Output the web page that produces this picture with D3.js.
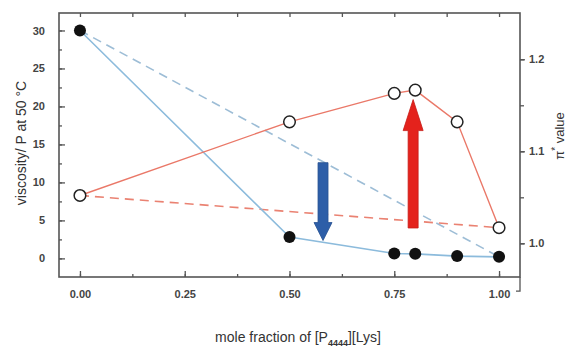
<!DOCTYPE html>
<html>
<head>
<meta charset="utf-8">
<script src="https://cdn.jsdelivr.net/npm/d3@7"></script>
<style>
  html, body { margin: 0; padding: 0; background: #fff; }
  svg { display: block; font-family: "Liberation Sans", Arial, sans-serif; }
</style>
</head>
<body>
<svg id="chart"></svg>
<script>
// mole fraction of [P4444][Lys]
const fractions = [0.0, 0.5, 0.75, 0.8, 0.9, 1.0];
// viscosity / P at 50 C (filled circles, left axis)
const viscosity = [30.0, 2.8, 0.65, 0.6, 0.3, 0.2];
// pi* value (open circles, right axis)
const piStar = [1.052, 1.132, 1.163, 1.1665, 1.132, 1.017];

const xTicks = [0, 0.25, 0.5, 0.75, 1.0];
const leftTicks = [0, 5, 10, 15, 20, 25, 30];
const rightTicks = [1.0, 1.1, 1.2];

// annotation arrows (x, start, end in viscosity units)
const arrows = [
  { x: 0.58, from: 12.6, to: 2.35, color: '#2d5ea8', head: 18, headW: 18 },
  { x: 0.795, from: 4.0, to: 20.9, color: '#e4221c', head: 31, headW: 20 }
];

const width = 569, height = 348;
const margin = { top: 13, right: 49, bottom: 71, left: 59 };

const svg = d3.select('#chart').attr('width', width).attr('height', height);

const x = d3.scaleLinear().domain([-0.05, 1.05])
  .range([margin.left, width - margin.right]);
const yL = d3.scaleLinear().domain([-2.45, 32.3])
  .range([height - margin.bottom, margin.top]);
const yR = d3.scaleLinear().domain([0.9634, 1.2503])
  .range([height - margin.bottom, margin.top]);

const x0 = margin.left, x1 = width - margin.right;
const y0 = height - margin.bottom, y1 = margin.top;
const axisColor = '#555';

// dashed guide lines (first to last point)
const last = fractions.length - 1;
svg.append('line')
  .attr('x1', x(fractions[0])).attr('y1', yL(viscosity[0]))
  .attr('x2', x(fractions[last])).attr('y2', yL(viscosity[last]))
  .attr('stroke', '#9dbdd6').attr('stroke-width', 1.6)
  .attr('stroke-dasharray', '9,6');
svg.append('line')
  .attr('x1', x(fractions[0])).attr('y1', yR(piStar[0]))
  .attr('x2', x(fractions[last])).attr('y2', yR(piStar[last]))
  .attr('stroke', '#ea8272').attr('stroke-width', 1.6)
  .attr('stroke-dasharray', '9,6');

// solid lines
svg.append('path')
  .datum(fractions.map((f, i) => [f, viscosity[i]]))
  .attr('fill', 'none').attr('stroke', '#8cbbdc').attr('stroke-width', 1.6)
  .attr('d', d3.line().x(d => x(d[0])).y(d => yL(d[1])));
svg.append('path')
  .datum(fractions.map((f, i) => [f, piStar[i]]))
  .attr('fill', 'none').attr('stroke', '#ea7868').attr('stroke-width', 1.4)
  .attr('d', d3.line().x(d => x(d[0])).y(d => yR(d[1])));

// arrows
arrows.forEach(a => {
  const cx = x(a.x), ys = yL(a.from), ye = yL(a.to);
  const dir = ye > ys ? 1 : -1;
  const hb = ye - dir * a.head;
  const sw = 5, hw = a.headW / 2;
  const pts = [
    [cx - sw, ys], [cx + sw, ys], [cx + sw, hb], [cx + hw, hb],
    [cx, ye], [cx - hw, hb], [cx - sw, hb]
  ];
  svg.append('path')
    .attr('d', 'M' + pts.map(p => p.join(',')).join('L') + 'Z')
    .attr('fill', a.color).attr('stroke', d3.color(a.color).darker(0.4))
    .attr('stroke-width', 0.8);
});

// markers
svg.selectAll('.visc').data(fractions).enter().append('circle')
  .attr('cx', d => x(d)).attr('cy', (d, i) => yL(viscosity[i]))
  .attr('r', 6).attr('fill', '#111');
svg.selectAll('.pi').data(fractions).enter().append('circle')
  .attr('cx', d => x(d)).attr('cy', (d, i) => yR(piStar[i]))
  .attr('r', 5.8).attr('fill', '#fff').attr('stroke', '#222').attr('stroke-width', 1.5);

// frame
svg.append('rect')
  .attr('x', x0).attr('y', y1).attr('width', x1 - x0).attr('height', y0 - y1)
  .attr('fill', 'none').attr('stroke', axisColor).attr('stroke-width', 1.6);

// ticks
const minorX = d3.range(0, 8.5).map(i => i * 0.125);
const minorL = d3.range(0, 13).map(i => i * 2.5);
const minorR = [1.0, 1.05, 1.1, 1.15, 1.2];

function styleAxis(g) {
  g.select('.domain').remove();
  g.selectAll('line').attr('stroke', axisColor).attr('stroke-width', 1.3);
  g.selectAll('text').attr('fill', '#444').attr('font-size', 11).attr('font-weight', 'bold');
}

svg.append('g').attr('transform', `translate(0,${y0})`)
  .call(d3.axisBottom(x).tickValues(minorX).tickSize(-3).tickFormat(''))
  .call(styleAxis);
svg.append('g').attr('transform', `translate(0,${y0})`)
  .call(d3.axisBottom(x).tickValues(xTicks).tickSizeInner(-6).tickPadding(13)
    .tickFormat(d3.format('.2f')))
  .call(styleAxis);
svg.append('g').attr('transform', `translate(0,${y1})`)
  .call(d3.axisTop(x).tickValues(minorX).tickSize(-4).tickFormat(''))
  .call(styleAxis);

svg.append('g').attr('transform', `translate(${x0},0)`)
  .call(d3.axisLeft(yL).tickValues(minorL).tickSize(-3).tickFormat(''))
  .call(styleAxis);
svg.append('g').attr('transform', `translate(${x0},0)`)
  .call(d3.axisLeft(yL).tickValues(leftTicks).tickSizeInner(-6).tickPadding(14))
  .call(styleAxis);

svg.append('g').attr('transform', `translate(${x1},0)`)
  .call(d3.axisRight(yR).tickValues(minorR).tickSize(4).tickFormat(''))
  .call(styleAxis);
svg.append('g').attr('transform', `translate(${x1},0)`)
  .call(d3.axisRight(yR).tickValues(rightTicks).tickSize(5).tickPadding(4)
    .tickFormat(d3.format('.1f')))
  .call(styleAxis);

// right axis tail below the frame
svg.append('path')
  .attr('d', `M${x1},${y0}L${x1},${yR(0.948)}L${x1 - 4},${yR(0.948)}`)
  .attr('fill', 'none').attr('stroke', axisColor).attr('stroke-width', 1.3);

// axis titles
svg.append('text')
  .attr('transform', `translate(26,143) rotate(-90)`)
  .attr('text-anchor', 'middle').attr('font-size', 14).attr('fill', '#333')
  .text('viscosity/ P at 50 °C');

const rt = svg.append('text')
  .attr('transform', `translate(564,136) rotate(-90)`)
  .attr('text-anchor', 'middle').attr('font-size', 13).attr('fill', '#333');
rt.append('tspan').text('π');
rt.append('tspan').attr('dy', -5).attr('font-size', 10).text('*');
rt.append('tspan').attr('dy', 5).text(' value');

const xt = svg.append('text')
  .attr('x', 298).attr('y', 342)
  .attr('text-anchor', 'middle').attr('font-size', 14).attr('fill', '#333');
xt.append('tspan').text('mole fraction of [P');
xt.append('tspan').attr('dy', 4).attr('font-size', 9).attr('font-weight', 'bold').text('4444');
xt.append('tspan').attr('dy', -4).text('][Lys]');
</script>
</body>
</html>
